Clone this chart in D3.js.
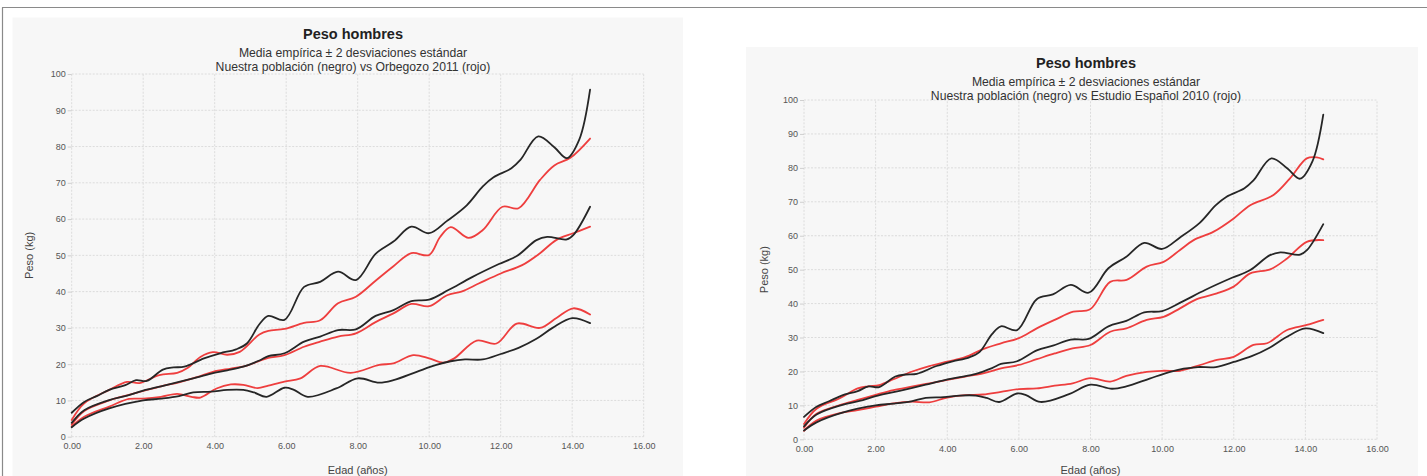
<!DOCTYPE html>
<html>
<head>
<meta charset="utf-8">
<script src="https://cdn.jsdelivr.net/npm/d3@7"></script>
<style>
  html, body { margin: 0; padding: 0; background: #ffffff; }
  svg { display: block; font-family: "Liberation Sans", Arial, sans-serif; }
</style>
</head>
<body>
<svg id="chart" width="1427" height="476"></svg>
<script>
// Axis ticks
const xTicks = [0, 2, 4, 6, 8, 10, 12, 14, 16];
const yTicks = [0, 10, 20, 30, 40, 50, 60, 70, 80, 90, 100];

// Our population: mean and mean ± 2 SD (kg) by age (years)
const ourUpperAge = [0, 0.35, 0.7, 1.05, 1.5, 1.8, 2.1, 2.55, 2.85, 3.15, 3.7, 4.15, 4.6, 4.9, 5.25, 5.5, 5.95, 6.5, 6.95, 7.45, 7.95, 8.5, 9.0, 9.5, 10.0, 10.5, 11.05, 11.5, 11.8, 12.3, 12.55, 13.05, 13.5, 13.85, 14.2, 14.5];
const ourUpper    = [6.6, 9.6, 11.2, 12.9, 14.2, 15.6, 15.4, 18.5, 19.1, 19.3, 21.6, 23.0, 24.1, 25.7, 31.0, 33.3, 32.2, 41.3, 42.7, 45.5, 43.2, 50.4, 53.8, 57.9, 56.1, 59.5, 63.8, 69.0, 71.5, 74.0, 76.3, 82.8, 79.8, 76.8, 82.0, 95.7];

const ourMeanAge = [0, 0.35, 1.05, 1.55, 2.0, 2.5, 3.0, 3.4, 3.9, 4.35, 4.8, 5.25, 5.5, 5.95, 6.5, 6.95, 7.45, 7.95, 8.5, 9.0, 9.5, 10.0, 10.55, 11.2, 11.95, 12.45, 13.0, 13.3, 13.85, 14.05, 14.5];
const ourMean    = [3.8, 7.3, 10.1, 11.3, 12.7, 13.9, 15.1, 16.1, 17.4, 18.3, 19.3, 21.0, 22.2, 23.0, 26.2, 27.6, 29.4, 29.6, 33.3, 34.9, 37.4, 37.8, 40.5, 44.0, 47.6, 49.8, 54.2, 55.1, 54.4, 55.8, 63.4];

const ourLowerAge = [0, 0.35, 1.05, 2.0, 2.5, 3.0, 3.4, 3.9, 4.35, 4.8, 5.1, 5.45, 5.95, 6.2, 6.6, 7.4, 8.0, 8.6, 9.0, 9.65, 10.2, 10.6, 11.0, 11.5, 12.0, 12.5, 13.0, 13.45, 14.0, 14.5];
const ourLower    = [2.6, 5.0, 7.8, 10.0, 10.5, 11.2, 12.2, 12.4, 12.9, 12.9, 12.2, 11.0, 13.5, 13.0, 11.0, 13.3, 16.1, 14.9, 15.6, 17.9, 19.8, 20.8, 21.3, 21.3, 22.8, 24.5, 27.0, 30.0, 32.7, 31.3];

// Orbegozo 2011 reference: mean and mean ± 2 SD (kg)
const orbUpperAge = [0, 0.35, 1.05, 1.55, 1.9, 2.45, 2.95, 3.25, 3.6, 3.95, 4.35, 4.7, 5.25, 5.5, 5.95, 6.5, 6.95, 7.45, 7.95, 8.5, 9.0, 9.5, 10.0, 10.3, 10.6, 11.1, 11.5, 12.05, 12.5, 13.1, 13.5, 13.95, 14.5];
const orbUpper    = [4.6, 9.2, 12.9, 15.1, 14.8, 17.0, 17.6, 19.0, 22.0, 23.3, 22.6, 23.4, 28.2, 29.2, 29.7, 31.4, 32.1, 36.8, 38.6, 43.0, 47.0, 50.6, 50.1, 55.0, 57.8, 54.8, 57.0, 63.4, 63.0, 70.8, 74.8, 76.9, 82.2];

const orbMeanAge = [0, 0.35, 1.05, 1.55, 2.0, 2.5, 3.0, 3.5, 3.95, 4.45, 4.9, 5.25, 5.5, 5.95, 6.5, 6.95, 7.45, 7.95, 8.5, 9.0, 9.5, 10.0, 10.5, 10.9, 11.4, 12.0, 12.6, 13.1, 13.55, 14.03, 14.5];
const orbMean    = [3.3, 7.1, 10.0, 11.4, 12.6, 13.9, 15.0, 16.4, 17.9, 18.8, 19.6, 20.9, 21.7, 22.5, 24.8, 26.2, 27.6, 28.5, 31.6, 34.0, 36.6, 36.0, 39.0, 40.0, 42.3, 45.0, 47.3, 50.6, 54.2, 56.1, 57.9];

const orbLowerAge = [0, 0.35, 1.05, 1.6, 2.0, 2.5, 2.95, 3.35, 3.6, 4.05, 4.45, 4.8, 5.2, 5.5, 5.95, 6.4, 6.95, 7.8, 8.6, 9.0, 9.55, 10.0, 10.4, 10.7, 11.33, 11.88, 12.45, 13.1, 13.57, 14.03, 14.5];
const orbLower    = [2.8, 5.5, 8.3, 10.4, 10.5, 11.0, 11.8, 11.0, 10.8, 13.3, 14.4, 14.3, 13.4, 14.1, 15.2, 16.1, 19.5, 17.6, 19.8, 20.2, 22.5, 21.6, 20.4, 21.6, 26.5, 25.7, 31.2, 30.0, 32.8, 35.4, 33.7];

// Estudio Español 2010 reference: mean and mean ± 2 SD (kg)
const espUpperAge = [0, 0.35, 1.0, 1.5, 1.8, 2.1, 2.5, 3.0, 3.5, 4.0, 4.5, 5.0, 5.5, 6.0, 6.5, 7.0, 7.52, 7.99, 8.55, 9.01, 9.57, 10.04, 10.5, 10.88, 11.44, 12.0, 12.46, 13.11, 13.57, 14.04, 14.32, 14.5];
const espUpper    = [4.5, 9.0, 12.1, 15.0, 15.6, 16.0, 17.7, 19.9, 21.6, 22.9, 24.2, 26.6, 28.3, 29.8, 32.7, 35.2, 37.6, 38.3, 46.4, 47.0, 50.9, 52.3, 55.8, 58.7, 61.2, 65.1, 69.0, 72.0, 76.9, 82.8, 83.1, 82.5];

const espMeanAge = [0, 0.35, 1.0, 1.5, 2.0, 2.5, 3.0, 3.5, 4.0, 4.5, 5.0, 5.5, 6.0, 6.5, 7.0, 7.5, 8.0, 8.55, 9.0, 9.57, 10.04, 10.5, 10.97, 11.53, 12.0, 12.46, 13.02, 13.49, 14.04, 14.5];
const espMean    = [3.4, 7.5, 10.1, 11.6, 13.1, 14.5, 15.5, 16.5, 17.5, 18.5, 19.4, 20.9, 21.9, 23.6, 25.3, 26.8, 27.8, 31.7, 32.7, 35.2, 36.1, 38.6, 41.3, 43.0, 45.0, 48.9, 50.1, 53.3, 58.2, 58.7];

const espLowerAge = [0, 0.35, 1.0, 1.5, 2.0, 2.5, 3.0, 3.5, 4.0, 4.5, 5.0, 5.5, 6.0, 6.5, 7.0, 7.5, 8.0, 8.55, 9.0, 9.57, 10.04, 10.5, 11.06, 11.53, 12.0, 12.55, 12.93, 13.49, 14.04, 14.5];
const espLower    = [2.5, 5.5, 7.7, 8.6, 9.6, 10.6, 11.1, 10.9, 12.3, 13.0, 13.2, 14.0, 14.8, 15.0, 15.8, 16.5, 18.0, 17.0, 18.7, 19.9, 20.2, 20.2, 21.9, 23.4, 24.3, 27.8, 28.3, 32.2, 33.7, 35.2];

const svg = d3.select("#chart");

// Frame around the page
svg.append("line").attr("x1", 2).attr("x2", 1427).attr("y1", 7.5).attr("y2", 7.5)
  .attr("stroke", "#8a8a8a").attr("stroke-width", 1.2);
svg.append("line").attr("x1", 2.5).attr("x2", 2.5).attr("y1", 7.5).attr("y2", 476)
  .attr("stroke", "#8a8a8a").attr("stroke-width", 1.2);

const pair = (ages, vals) => ages.map((a, i) => [a, vals[i]]);

function drawPanel(p) {
  const g = svg.append("g");
  g.append("rect").attr("x", p.bx).attr("y", p.by).attr("width", p.bw).attr("height", p.bh)
    .attr("fill", "#f7f7f7");

  const x = d3.scaleLinear().domain([0, 16]).range([p.x0, p.x1]);
  const y = d3.scaleLinear().domain([0, 100]).range([p.y0, p.y1]);

  // grid
  g.append("g").selectAll("line").data(yTicks).join("line")
    .attr("x1", x(0)).attr("x2", x(16))
    .attr("y1", d => y(d)).attr("y2", d => y(d))
    .attr("stroke", "#dcdcdc").attr("stroke-width", 1).attr("stroke-dasharray", "2,1.5");
  g.append("g").selectAll("line").data(xTicks).join("line")
    .attr("y1", y(0)).attr("y2", y(100))
    .attr("x1", d => x(d)).attr("x2", d => x(d))
    .attr("stroke", "#dcdcdc").attr("stroke-width", 1).attr("stroke-dasharray", "2,1.5");

  // axes
  const yAxis = d3.axisLeft(y).tickValues(yTicks).tickSize(4).tickPadding(2).tickFormat(d3.format("d"));
  const xAxis = d3.axisBottom(x).tickValues(xTicks).tickSize(0).tickPadding(6).tickFormat(d3.format(".2f"));
  const ya = g.append("g").attr("transform", `translate(${x(0)},0)`).call(yAxis);
  const xa = g.append("g").attr("transform", `translate(0,${y(0)})`).call(xAxis);
  [ya, xa].forEach(a => {
    a.select(".domain").remove();
    a.selectAll("line").attr("stroke", "#cfcfcf");
    a.selectAll("text").attr("fill", "#555").style("font-size", "9px")
      .style("font-family", "'Liberation Sans', Arial, sans-serif");
  });

  // titles
  const cx = p.tx;
  g.append("text").attr("x", cx).attr("y", p.ty).attr("text-anchor", "middle")
    .style("font-size", "14.5px").style("font-weight", "bold").attr("fill", "#222").text("Peso hombres");
  g.append("text").attr("x", cx).attr("y", p.ty + 18).attr("text-anchor", "middle")
    .style("font-size", "12.2px").attr("fill", "#333").text("Media empírica ± 2 desviaciones estándar");
  g.append("text").attr("x", cx).attr("y", p.ty + 32).attr("text-anchor", "middle")
    .style("font-size", "12.2px").attr("fill", "#333").text(p.subtitle);

  g.append("text").attr("x", (x(0) + x(16)) / 2).attr("y", p.xlabY).attr("text-anchor", "middle")
    .style("font-size", "11px").attr("fill", "#444").text("Edad (años)");
  g.append("text").attr("transform", `translate(${p.ylabX},${(y(0) + y(100)) / 2}) rotate(-90)`)
    .attr("text-anchor", "middle").style("font-size", "11px").attr("fill", "#444").text("Peso (kg)");

  // series
  const line = d3.line().x(d => x(d[0])).y(d => y(d[1])).curve(d3.curveCatmullRom.alpha(0.5));
  const series = [
    ...p.reference.map(s => ({ d: s, c: "#ee3e3e" })),
    { d: pair(ourUpperAge, ourUpper), c: "#262626" },
    { d: pair(ourMeanAge, ourMean), c: "#262626" },
    { d: pair(ourLowerAge, ourLower), c: "#262626" }
  ];
  g.append("g").selectAll("path").data(series).join("path")
    .attr("d", s => line(s.d)).attr("fill", "none")
    .attr("stroke", s => s.c).attr("stroke-width", 1.8)
    .attr("stroke-linejoin", "round").attr("stroke-linecap", "round");
}

drawPanel({
  bx: 12.5, by: 17.5, bw: 670.5, bh: 470,
  x0: 71.7, x1: 643.7, y0: 436.7, y1: 74,
  tx: 353, ty: 39, xlabY: 474, ylabX: 33,
  subtitle: "Nuestra población (negro) vs Orbegozo 2011 (rojo)",
  reference: [pair(orbUpperAge, orbUpper), pair(orbMeanAge, orbMean), pair(orbLowerAge, orbLower)]
});

drawPanel({
  bx: 746, by: 47, bw: 672, bh: 440,
  x0: 804, x1: 1377, y0: 439.3, y1: 100,
  tx: 1086, ty: 68, xlabY: 474, ylabX: 768,
  subtitle: "Nuestra población (negro) vs Estudio Español 2010 (rojo)",
  reference: [pair(espUpperAge, espUpper), pair(espMeanAge, espMean), pair(espLowerAge, espLower)]
});
</script>
</body>
</html>
